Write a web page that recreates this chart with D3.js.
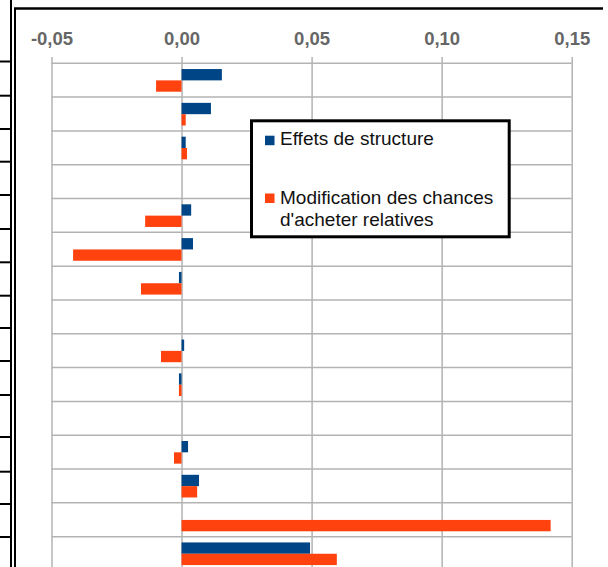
<!DOCTYPE html>
<html>
<head>
<meta charset="utf-8">
<script src="https://cdn.jsdelivr.net/npm/d3@7"></script>
<style>
  html, body { margin: 0; padding: 0; background: #fff; }
  svg { display: block; }
</style>
</head>
<body>
<svg id="chart" width="608" height="567"></svg>
<script>
// Row identifiers (the category captions sit in the sheet cells to the left)
const categories = ["1","2","3","4","5","6","7","8","9","10","11","12","13","14","15"];

// Series names
const seriesNames = ["Effets de structure", "Modification des chances d'acheter relatives"];

// Values per row (null = no bar)
const structureEffects = [0.0155, 0.0113, 0.0016, null, 0.0037, 0.0044, -0.0010, null, 0.0010, -0.0010, null, 0.0025, 0.0067, 0, 0.0494];
const relativeChances  = [-0.0098, 0.0016, 0.0021, null, -0.0140, -0.0417, -0.0156, null, -0.0079, -0.0010, null, -0.0029, 0.0060, 0.1419, 0.0597];

// Value axis ticks
const tickValues = [-0.05, 0.00, 0.05, 0.10, 0.15];

const colors = ["#004586", "#ff420e"];

const svg = d3.select("#chart");
const W = 608, H = 567;

svg.append("rect").attr("width", W).attr("height", H).attr("fill", "#fff");

// Layout
const plotLeft = 51.5, plotRight = 571.7, plotTop = 63.3, plotBottom = 570.5;

const x = d3.scaleLinear().domain([-0.05, 0.15]).range([plotLeft, plotRight]);
const y0 = d3.scaleBand().domain(categories).range([plotTop, plotBottom]).padding(0);
const bw = y0.bandwidth();
const y1 = d3.scaleBand().domain([0, 1]).range([bw * 0.17, bw * 0.84]).padding(0);

const fr = d3.formatLocale({decimal: ",", thousands: " ", grouping: [3], currency: ["", " €"], minus: "-"});
const fmt = fr.format(".2f");

// Sheet cell borders to the left of the chart object
const sheetRowLines = [61.5, 95.7, 129, 161.7, 195, 229, 262.3, 295.7, 328, 361, 395, 437, 471.7, 504, 537];
const deco = svg.append("g").attr("stroke", "#000");
deco.selectAll("line.row").data(sheetRowLines).join("line")
  .attr("x1", 0).attr("x2", 11).attr("y1", d => d).attr("y2", d => d).attr("stroke-width", 2);
deco.append("line").attr("x1", 11).attr("x2", 11).attr("y1", 0).attr("y2", H).attr("stroke-width", 2);
deco.append("line").attr("x1", 15).attr("x2", 15).attr("y1", 8).attr("y2", H).attr("stroke-width", 2);
deco.append("line").attr("x1", 14).attr("x2", 603).attr("y1", 8.5).attr("y2", 8.5).attr("stroke-width", 2.5);

// Vertical grid + tick labels
const axis = d3.axisTop(x)
  .tickValues(tickValues)
  .tickFormat(fmt)
  .tickSize(-(plotBottom - 57))
  .tickPadding(12);

const gx = svg.append("g").attr("transform", "translate(0,57)").call(axis);
gx.select(".domain").remove();
gx.selectAll(".tick line").attr("stroke", "#b3b3b3").attr("stroke-width", 1.5);
gx.selectAll(".tick text")
  .attr("font-family", "'Liberation Sans', Arial, sans-serif")
  .attr("font-size", 18.5)
  .attr("font-weight", "bold")
  .attr("fill", "#666");

// Horizontal grid at category boundaries
const bounds = categories.map(c => y0(c)).concat([plotBottom]);
svg.append("g").selectAll("line").data(bounds).join("line")
  .attr("x1", plotLeft).attr("x2", plotRight)
  .attr("y1", d => d).attr("y2", d => d)
  .attr("stroke", "#b3b3b3").attr("stroke-width", 1.5);

// Bars
const rows = categories.map((c, i) => ({c, vals: [structureEffects[i], relativeChances[i]]}));
const groups = svg.append("g").selectAll("g").data(rows).join("g")
  .attr("transform", d => `translate(0,${y0(d.c)})`);
groups.selectAll("rect")
  .data(d => d.vals.map((v, k) => ({v, k})).filter(e => e.v !== null && e.v !== 0))
  .join("rect")
  .attr("x", e => x(Math.min(0, e.v)))
  .attr("width", e => Math.abs(x(e.v) - x(0)))
  .attr("y", e => y1(e.k))
  .attr("height", y1.bandwidth())
  .attr("fill", e => colors[e.k]);

// Legend
const lg = svg.append("g");
lg.append("rect").attr("x", 251.5).attr("y", 120.8).attr("width", 257.7).attr("height", 116)
  .attr("fill", "#fff").attr("stroke", "#000").attr("stroke-width", 3);
const legendItems = [
  {name: seriesNames[0], lines: ["Effets de structure"], sy: 135.7, base: 145},
  {name: seriesNames[1], lines: ["Modification des chances", "d'acheter relatives"], sy: 193.5, base: 204}
];
legendItems.forEach((it, k) => {
  lg.append("rect").attr("x", 265).attr("y", it.sy).attr("width", 9.5).attr("height", 9.5).attr("fill", colors[k]);
  const t = lg.append("text")
    .attr("font-family", "'Liberation Sans', Arial, sans-serif")
    .attr("font-size", 19).attr("fill", "#111");
  it.lines.forEach((ln, j) => {
    t.append("tspan").attr("x", 280).attr("y", it.base + j * 22).text(ln);
  });
});
</script>
</body>
</html>
